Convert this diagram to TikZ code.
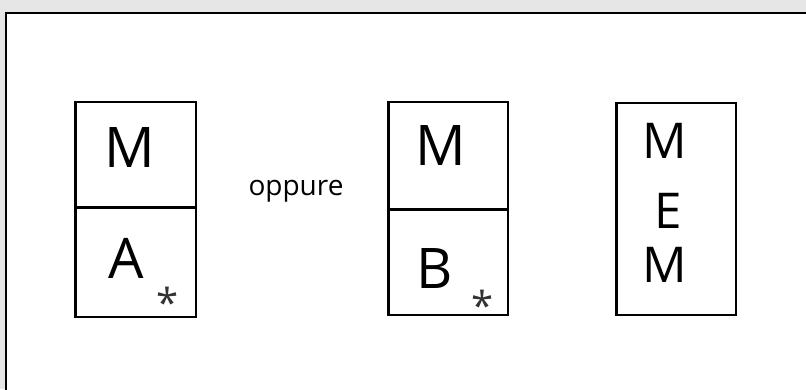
\documentclass[tikz,border=0pt]{standalone}
\usepackage{fontspec}
\setmainfont{Open Sans}

\tikzset{every picture/.style={line width=1.7pt}}
\tikzset{
  bigletter/.style={anchor=base, inner sep=0.75pt, font=\fontsize{42}{42}\selectfont},
  midletter/.style={anchor=base, inner sep=0.75pt, font=\fontsize{37}{37}\selectfont},
  starmark/.style={anchor=center, inner sep=0pt, font=\fontsize{30}{30}\selectfont, color={rgb, 255:red, 50; green, 50; blue, 50 }},
  wordlabel/.style={anchor=base, inner sep=0.75pt, font=\fontsize{21}{21}\selectfont}
}

\begin{document}
\begin{tikzpicture}[x=0.75pt,y=0.75pt,yscale=-1,xscale=1]
        \useasboundingbox (0,0) rectangle (806,389);
        \clip (0,0) rectangle (806,389);

        %Background
        \fill [color={rgb, 255:red, 230; green, 230; blue, 230 }] (0,0) rectangle (806,389);
        %Frame (runs off right and bottom edge)
        \draw [fill=white, line width=1.8pt] (6,13) rectangle (830,420);

        %Shape: Rectangle (left box)
        \draw (75.5,102) rectangle (196,317);
        \draw (75.5,207.5) -- (196,207.5);
        %Shape: Rectangle (middle box)
        \draw (388.5,102) rectangle (508,315);
        \draw (388.5,209.5) -- (508,209.5);
        %Shape: Rectangle (right box)
        \draw (616.5,103) rectangle (736,315);

        % Text Node
        \draw (130,167) node [bigletter] (mA) {M};
        % Text Node
        \draw (126,278) node [bigletter] (lA) {A};
        % Text Node
        \draw (168,302) node [starmark] (sA) {*};
        % Text Node
        \draw (296,195) node [wordlabel] (oppure) {oppure};
        % Text Node
        \draw (441,165) node [bigletter] (mB) {M};
        % Text Node
        \draw (435,288) node [bigletter] (lB) {B};
        % Text Node
        \draw (483,305) node [starmark] (sB) {*};
        % Text Node
        \draw (665,158) node [midletter] (mE1) {M};
        % Text Node
        \draw (668,228) node [midletter] (lE) {E};
        % Text Node
        \draw (665,282) node [midletter] (mE2) {M};

\end{tikzpicture}
\end{document}
